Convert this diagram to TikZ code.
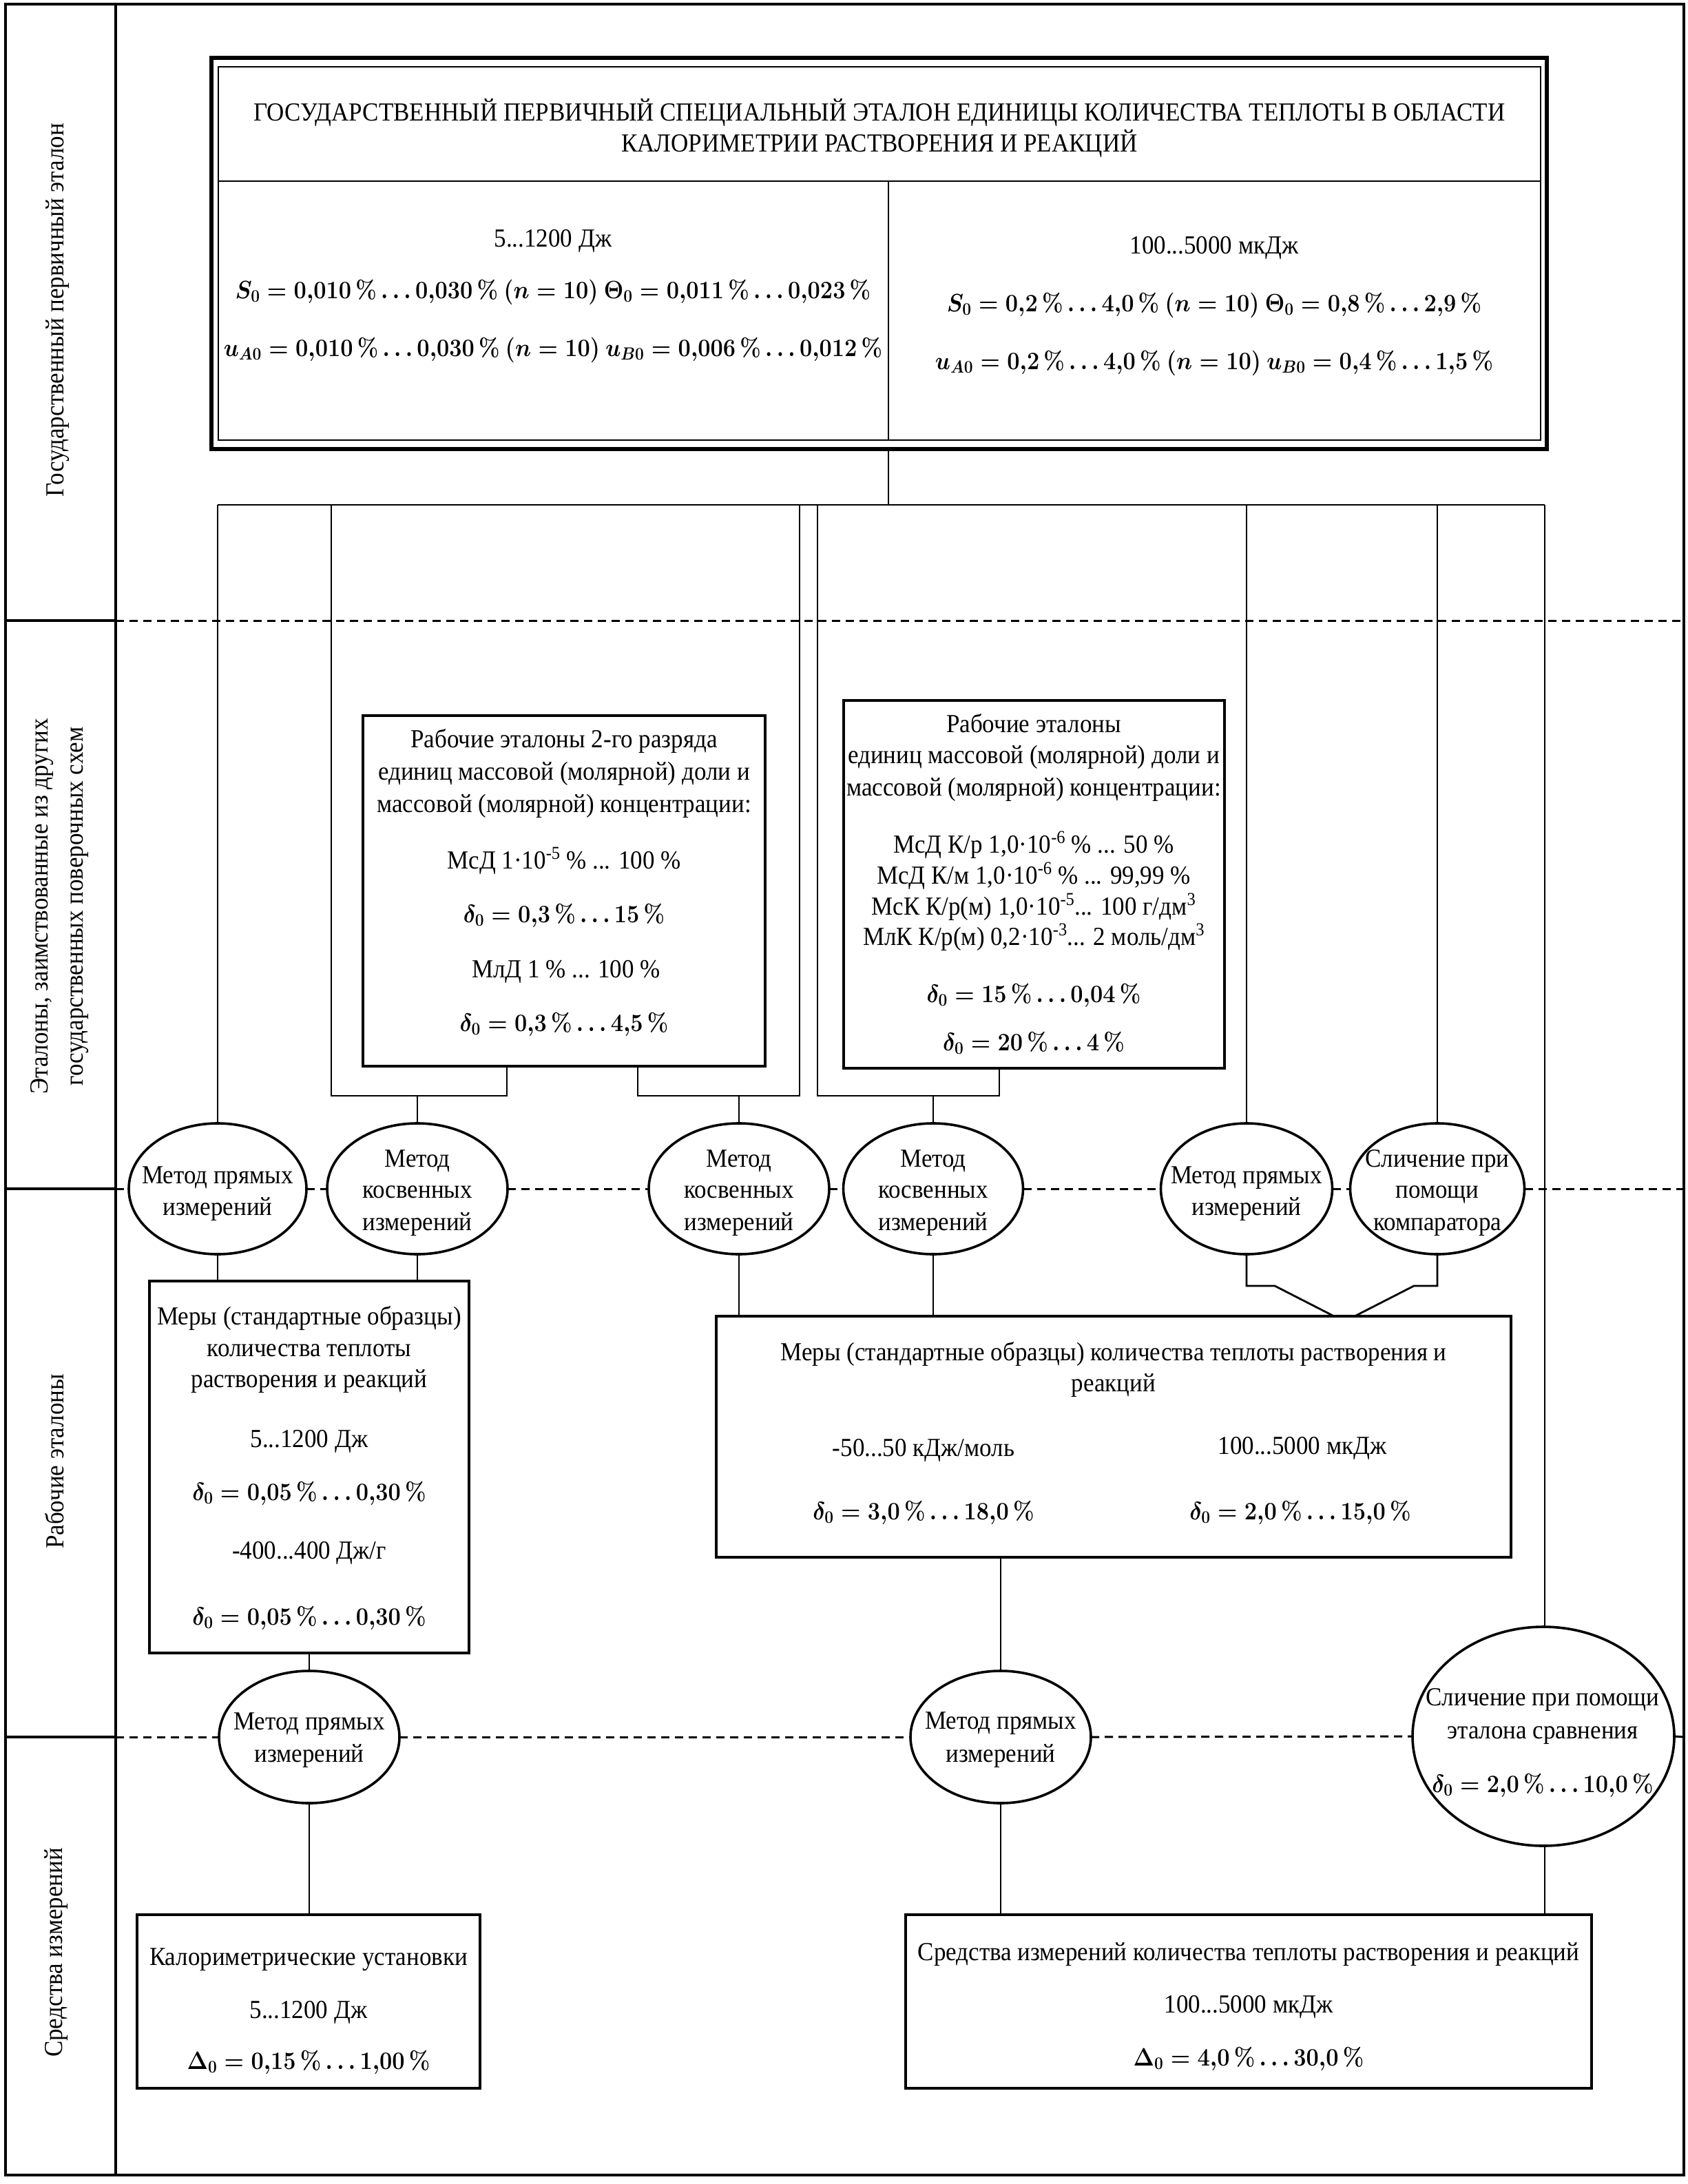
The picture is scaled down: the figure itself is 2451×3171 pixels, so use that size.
\RequirePackage{fix-cm}
\documentclass[tikz,border=0pt]{standalone}
\usepackage[no-math]{fontspec}
\setmainfont{Liberation Serif}
\usetikzlibrary{shapes.geometric}
\newcommand\pct{\,\%}
\newsavebox{\nbox}
\begin{document}
\begin{tikzpicture}[x=1pt,y=-1pt,
  every node/.style={inner sep=0pt, outer sep=0pt},
  tall/.style={execute at begin node={\begin{lrbox}{\nbox}},
               execute at end node={\end{lrbox}\scalebox{1}[#1]{\usebox{\nbox}}}},
  rtxt/.style={anchor=mid, font=\fontsize{35}{45}\selectfont, tall=1.08},
  txt/.style={anchor=mid, yshift=-9pt, font=\fontsize{35}{45}\selectfont, tall=1.08},
  mth/.style={anchor=mid, yshift=-9pt, font=\fontsize{32.5}{45}\selectfont\boldmath, tall=1.12},
  boxn/.style={draw, line width=3.4pt},
  ell/.style={draw, ellipse, line width=3.6pt},
  conn/.style={line width=2.8pt},
  frame/.style={line width=3.4pt},
  lane/.style={line width=3pt, dash pattern=on 12pt off 8pt}]
\useasboundingbox (0,0) rectangle (2451,3171);

% ---------- frame ----------
\coordinate (fTL) at (8,6);
\coordinate (fBR) at (2445,3158);
\coordinate (col) at (168,6);
\draw[frame] (fTL) rectangle (fBR);
\draw[frame] (col) -- (col |- fBR);
\coordinate (y1) at (0,901);
\coordinate (y2) at (0,1726);
\coordinate (y3) at (0,2522);
\draw[frame] (fTL |- y1) -- (col |- y1);
\draw[frame] (fTL |- y2) -- (col |- y2);
\draw[frame] (fTL |- y3) -- (col |- y3);

% lane labels
\node[rtxt, rotate=90] (L1) at (90,450) {Государственный первичный эталон};
\node[rtxt, rotate=90] (L2a) at (67,1316) {Эталоны, заимствованные из других};
\node[rtxt, rotate=90] (L2b) at (118,1316) {государственных поверочных схем};
\node[rtxt, rotate=90] (L3) at (90,2122) {Рабочие эталоны};
\node[rtxt, rotate=90] (L4) at (88,2835) {Средства измерений};

% ---------- top box ----------
\node[draw, line width=6pt, minimum width=1939, minimum height=568] (T) at (1276.5,368) {};
\node[draw, line width=2.6pt, minimum width=1920, minimum height=542] (Ti) at (1277,368) {};
\coordinate (tdiv) at (1290,263);
\draw[conn] (Ti.west |- tdiv) -- (Ti.east |- tdiv);
\draw[conn] (tdiv) -- (tdiv |- Ti.south);
\node[txt] (t1) at (1277,164) {ГОСУДАРСТВЕННЫЙ ПЕРВИЧНЫЙ СПЕЦИАЛЬНЫЙ ЭТАЛОН ЕДИНИЦЫ КОЛИЧЕСТВА ТЕПЛОТЫ В ОБЛАСТИ};
\node[txt] (t2) at (1277,209) {КАЛОРИМЕТРИИ РАСТВОРЕНИЯ И РЕАКЦИЙ};
\node[txt] (a1) at (803,347) {5...1200 Дж};
\node[mth] (a2) at (803,422) {$S_0 = 0{,}010\pct\ldots0{,}030\pct\ (n = 10)\ \Theta_0 = 0{,}011\pct\ldots0{,}023\pct$};
\node[mth] (a3) at (803,506) {$u_{A0} = 0{,}010\pct\ldots0{,}030\pct\ (n = 10)\ u_{B0} = 0{,}006\pct\ldots0{,}012\pct$};
\node[txt] (b1) at (1763,357) {100...5000 мкДж};
\node[mth] (b2) at (1763,441) {$S_0 = 0{,}2\pct\ldots4{,}0\pct\ (n = 10)\ \Theta_0 = 0{,}8\pct\ldots2{,}9\pct$};
\node[mth] (b3) at (1763,525) {$u_{A0} = 0{,}2\pct\ldots4{,}0\pct\ (n = 10)\ u_{B0} = 0{,}4\pct\ldots1{,}5\pct$};

% ---------- lane 2 boxes ----------
\node[boxn, minimum width=584, minimum height=509] (B1) at (819,1293.5) {};
\node[txt] (c1) at (819,1074) {Рабочие эталоны 2-го разряда};
\node[txt] (c2) at (819,1121) {единиц массовой (молярной) доли и};
\node[txt] (c3) at (819,1168) {массовой (молярной) концентрации:};
\node[txt] (c4) at (819,1250) {МсД 1·10\textsuperscript{-5} \% ... 100 \%};
\node[mth] (c5) at (819,1328) {$\delta_0 = 0{,}3\pct\ldots15\pct$};
\node[txt] (c6) at (822,1408) {МлД 1 \% ... 100 \%};
\node[mth] (c7) at (819,1486) {$\delta_0 = 0{,}3\pct\ldots4{,}5\pct$};

\node[boxn, minimum width=553, minimum height=534] (B2) at (1501.5,1284) {};
\node[txt] (d1) at (1501,1052) {Рабочие эталоны};
\node[txt] (d2) at (1501,1097) {единиц массовой (молярной) доли и};
\node[txt] (d3) at (1501,1144) {массовой (молярной) концентрации:};
\node[txt] (d4) at (1501,1227) {МсД К/р 1,0·10\textsuperscript{-6} \% ... 50 \%};
\node[txt] (d5) at (1501,1272) {МсД К/м 1,0·10\textsuperscript{-6} \% ... 99,99 \%};
\node[txt] (d6) at (1501,1317) {МсК К/р(м) 1,0·10\textsuperscript{-5}... 100 г/дм\textsuperscript{3}};
\node[txt] (d7) at (1501,1361) {МлК К/р(м) 0,2·10\textsuperscript{-3}... 2 моль/дм\textsuperscript{3}};
\node[mth] (d8) at (1501,1444) {$\delta_0 = 15\pct\ldots0{,}04\pct$};
\node[mth] (d9) at (1501,1514) {$\delta_0 = 20\pct\ldots4\pct$};

% ---------- ellipses row 1 ----------
\node[ell, minimum width=258, minimum height=190] (E1) at (316,1726) {};
\node[ell, minimum width=262, minimum height=190] (E2) at (606,1726) {};
\node[ell, minimum width=262, minimum height=190] (E3) at (1073,1726) {};
\node[ell, minimum width=261, minimum height=190] (E4) at (1355,1726) {};
\node[ell, minimum width=249, minimum height=190] (E5) at (1810,1726) {};
\node[ell, minimum width=253, minimum height=190] (E6) at (2087,1726) {};
\node[txt] (e1a) at (316,1707) {Метод прямых};
\node[txt] (e1b) at (316,1753) {измерений};
\node[txt] (e2a) at (606,1683) {Метод};
\node[txt] (e2b) at (606,1728) {косвенных};
\node[txt] (e2c) at (606,1775) {измерений};
\node[txt] (e3a) at (1073,1683) {Метод};
\node[txt] (e3b) at (1073,1728) {косвенных};
\node[txt] (e3c) at (1073,1775) {измерений};
\node[txt] (e4a) at (1355,1683) {Метод};
\node[txt] (e4b) at (1355,1728) {косвенных};
\node[txt] (e4c) at (1355,1775) {измерений};
\node[txt] (e5a) at (1810,1707) {Метод прямых};
\node[txt] (e5b) at (1810,1753) {измерений};
\node[txt] (e6a) at (2087,1683) {Сличение при};
\node[txt] (e6b) at (2087,1728) {помощи};
\node[txt] (e6c) at (2087,1775) {компаратора};

% ---------- lane 3 boxes ----------
\node[boxn, minimum width=464, minimum height=540] (B3) at (449,2130) {};
\node[txt] (g1) at (449,1912) {Меры (стандартные образцы)};
\node[txt] (g2) at (449,1958) {количества теплоты};
\node[txt] (g3) at (449,2003) {растворения и реакций};
\node[txt] (g4) at (449,2090) {5...1200 Дж};
\node[mth] (g5) at (449,2167) {$\delta_0 = 0{,}05\pct\ldots0{,}30\pct$};
\node[txt] (g6) at (449,2252) {-400...400 Дж/г};
\node[mth] (g7) at (449,2348) {$\delta_0 = 0{,}05\pct\ldots0{,}30\pct$};

\node[boxn, minimum width=1154, minimum height=350] (B4) at (1617,2086) {};
\node[txt] (k1) at (1617,1964) {Меры (стандартные образцы) количества теплоты растворения и};
\node[txt] (k2) at (1617,2009) {реакций};
\node[txt] (k3) at (1341,2103) {-50...50 кДж/моль};
\node[txt] (k4) at (1891,2100) {100...5000 мкДж};
\node[mth] (k5) at (1341,2195) {$\delta_0 = 3{,}0\pct\ldots18{,}0\pct$};
\node[mth] (k6) at (1888,2195) {$\delta_0 = 2{,}0\pct\ldots15{,}0\pct$};

% ---------- ellipses row 2 ----------
\node[ell, minimum width=262, minimum height=192] (E9) at (449,2522) {};
\node[ell, minimum width=262, minimum height=192] (E7) at (1453,2522) {};
\node[ell, minimum width=380, minimum height=318] (E8) at (2241,2521) {};
\node[txt] (m9a) at (449,2500) {Метод прямых};
\node[txt] (m9b) at (449,2547) {измерений};
\node[txt] (m7a) at (1453,2499) {Метод прямых};
\node[txt] (m7b) at (1453,2547) {измерений};
\node[txt] (m8a) at (2240,2465) {Сличение при помощи};
\node[txt] (m8b) at (2240,2513) {эталона сравнения};
\node[mth] (m8c) at (2240,2591) {$\delta_0 = 2{,}0\pct\ldots10{,}0\pct$};

% ---------- lane 4 boxes ----------
\node[boxn, minimum width=498, minimum height=252] (B5) at (448,2906) {};
\node[txt] (n1) at (448,2842) {Калориметрические установки};
\node[txt] (n2) at (448,2919) {5...1200 Дж};
\node[mth] (n3) at (448,2993) {$\Delta_0 = 0{,}15\pct\ldots1{,}00\pct$};
\node[boxn, minimum width=996, minimum height=252] (B6) at (1813,2906) {};
\node[txt] (p1) at (1813,2835) {Средства измерений количества теплоты растворения и реакций};
\node[txt] (p2) at (1813,2911) {100...5000 мкДж};
\node[mth] (p3) at (1813,2988) {$\Delta_0 = 4{,}0\pct\ldots30{,}0\pct$};

% ---------- dashed lane separators ----------
\draw[lane] (col |- y1) -- (fBR |- y1);
\draw[lane] (col |- y2) -- (E1.west);
\draw[lane] (E1.east) -- (E2.west);
\draw[lane] (E2.east) -- (E3.west);
\draw[lane] (E3.east) -- (E4.west);
\draw[lane] (E4.east) -- (E5.west);
\draw[lane] (E5.east) -- (E6.west);
\draw[lane] (E6.east) -- (fBR |- y2);
\draw[lane] (col |- y3) -- (E9.west);
\draw[lane] (E9.east) -- (E7.west);
\draw[lane] (E7.east) -- (E8.west);
\draw[lane] (E8.east) -- (fBR |- y3);

% ---------- connectors ----------
\coordinate (busC) at (1290,733);
\coordinate (bL) at (316,733);
\coordinate (bR) at (2243,733);
\draw[conn] (T.south -| busC) -- (busC);
\draw[conn] (bL) -- (bR);
\draw[conn] (bL) -- (E1.north);
\coordinate (u1a) at (481,1591);
\coordinate (u1b) at (736,1591);
\draw[conn] (u1a |- bL) -- (u1a) -- (u1b) -- (u1b |- B1.south);
\draw[conn] (E2.north |- u1a) -- (E2.north);
\coordinate (u2a) at (926,1591);
\coordinate (u2b) at (1161,1591);
\draw[conn] (u2a |- B1.south) -- (u2a) -- (u2b) -- (u2b |- bL);
\draw[conn] (E3.north |- u2a) -- (E3.north);
\coordinate (u3a) at (1451,1591);
\coordinate (u3b) at (1187,1591);
\draw[conn] (u3a |- B2.south) -- (u3a) -- (u3b) -- (u3b |- bL);
\draw[conn] (E4.north |- u3a) -- (E4.north);
\draw[conn] (E5.north |- bL) -- (E5.north);
\draw[conn] (E6.north |- bL) -- (E6.north);
\draw[conn] (bR) -- (bR |- E8.north);

\draw[conn] (E1.south) -- (E1.south |- B3.north);
\draw[conn] (E2.south) -- (E2.south |- B3.north);
\draw[conn] (E3.south) -- (E3.south |- B4.north);
\draw[conn] (E4.south) -- (E4.south |- B4.north);
\coordinate (m5) at (1851,1867);
\coordinate (j5) at (1937,1911);
\draw[conn] (E5.south) -- (E5.south |- m5) -- (m5) -- (j5 |- B4.north);
\coordinate (m6) at (2053,1867);
\coordinate (j6) at (1967,1911);
\draw[conn] (E6.south) -- (E6.south |- m6) -- (m6) -- (j6 |- B4.north);
\draw[conn] (B3.south) -- (E9.north);
\draw[conn] (E7.north |- B4.south) -- (E7.north);
\draw[conn] (E9.south) -- (E9.south |- B5.north);
\draw[conn] (E7.south) -- (E7.south |- B6.north);
\draw[conn] (bR |- E8.south) -- (bR |- B6.north);
\end{tikzpicture}
\end{document}
